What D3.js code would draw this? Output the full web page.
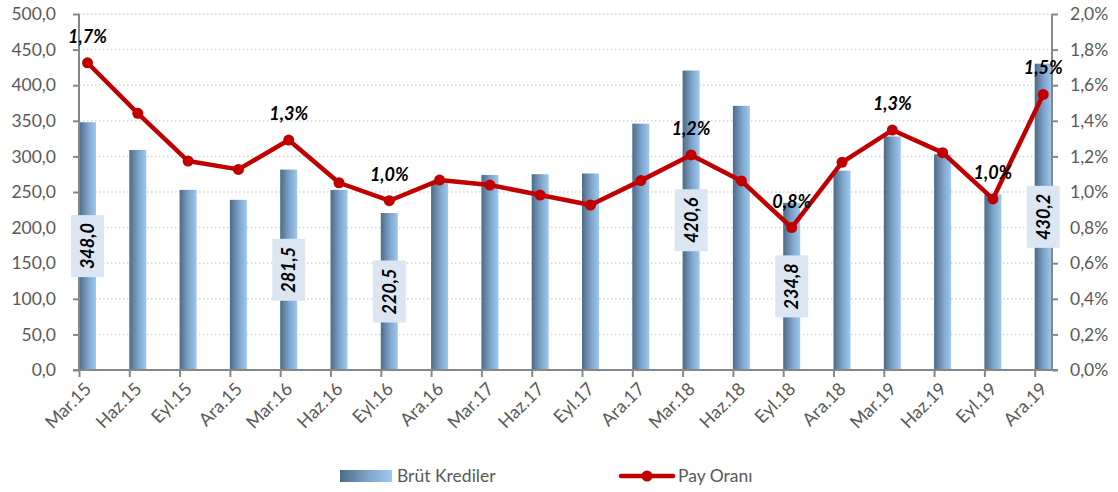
<!DOCTYPE html>
<html>
<head>
<meta charset="utf-8">
<script src="https://cdn.jsdelivr.net/npm/d3@7"></script>
<style>
  body { margin: 0; background: #fff; }
  svg { display: block; font-family: Lato, "Open Sans", sans-serif; }
</style>
</head>
<body>
<svg id="chart" width="1118" height="492"></svg>
<script>
// data
let periods = ["Mar.15","Haz.15","Eyl.15","Ara.15","Mar.16","Haz.16","Eyl.16","Ara.16",
               "Mar.17","Haz.17","Eyl.17","Ara.17","Mar.18","Haz.18","Eyl.18","Ara.18",
               "Mar.19","Haz.19","Eyl.19","Ara.19"];
let brutKrediler = [348.0, 309, 253, 239, 281.5, 253, 220.5, 263, 274, 275, 276, 346,
                    420.6, 371, 234.8, 280, 328, 303, 247, 430.2];
let payOrani = [0.01726, 0.01442, 0.01174, 0.01127, 0.01292, 0.01052, 0.00951, 0.01067,
                0.01039, 0.00983, 0.00927, 0.01064, 0.01208, 0.01062, 0.00800, 0.01167,
                0.01348, 0.01221, 0.00961, 0.01548];
// which points carry a data label
let barLabelAt = ["Mar.15","Mar.16","Eyl.16","Mar.18","Eyl.18","Ara.19"];
let lineLabelAt = ["Mar.15","Mar.16","Eyl.16","Mar.18","Eyl.18","Mar.19","Eyl.19","Ara.19"];
let leftTicks = d3.range(0, 501, 50);
let rightTicks = d3.range(0, 0.0201, 0.002);

let width = 1118, height = 492;
let plotLeft = 79, plotRight = 1052, plotTop = 14, plotBottom = 370;
let barW = 17;

let locale = d3.formatLocale({decimal: ",", thousands: ".", grouping: [3], currency: ["", ""]});
let fmtNum = locale.format(".1f");
let fmtPct = locale.format(".1%");

let svg = d3.select("#chart");

let defs = svg.append("defs");
let grad = defs.append("linearGradient").attr("id", "barGrad")
	.attr("x1", "0%").attr("x2", "100%").attr("y1", "0%").attr("y2", "0%");
grad.append("stop").attr("offset", "0%").attr("stop-color", "#4d6a88");
grad.append("stop").attr("offset", "55%").attr("stop-color", "#7fa6cc");
grad.append("stop").attr("offset", "100%").attr("stop-color", "#9fc8ee");

// scales
let x = d3.scalePoint()
	.domain(periods)
	.range([plotLeft, plotLeft + 19 * 50.3]);

let yL = d3.scaleLinear().domain([0, 500]).range([plotBottom, plotTop]);
let yR = d3.scaleLinear().domain([0, 0.02]).range([plotBottom, plotTop]);

// gridlines
svg.append("g")
	.selectAll("line")
	.data(leftTicks.filter(d => d > 0))
	.enter().append("line")
	.attr("x1", plotLeft).attr("x2", plotRight)
	.attr("y1", d => yL(d)).attr("y2", d => yL(d))
	.attr("stroke", "#d4d4d4")
	.attr("stroke-width", 1.5)
	.attr("stroke-dasharray", "1.5 2.5");

// bars
svg.append("g")
	.selectAll("rect")
	.data(brutKrediler)
	.enter().append("rect")
	.attr("x", (d, i) => x(periods[i]))
	.attr("y", d => yL(d))
	.attr("width", barW)
	.attr("height", d => yL(0) - yL(d))
	.attr("fill", "url(#barGrad)");

// axes
let axisColor = "#878787";
let labelColor = "#595959";

let leftAxis = svg.append("g")
	.attr("transform", "translate(" + plotLeft + ",0)")
	.call(d3.axisLeft(yL).tickValues(leftTicks).tickFormat(fmtNum).tickSize(6).tickPadding(17));
let rightAxis = svg.append("g")
	.attr("transform", "translate(" + plotRight + ",0)")
	.call(d3.axisRight(yR).tickValues(rightTicks).tickFormat(fmtPct).tickSize(6).tickPadding(12));
let bottomAxis = svg.append("g")
	.attr("transform", "translate(0," + plotBottom + ")")
	.call(d3.axisBottom(x).tickSize(7).tickFormat(""));

[leftAxis, rightAxis, bottomAxis].forEach(function(g) {
	g.select(".domain").remove();
	g.selectAll(".tick line").attr("stroke", axisColor).attr("stroke-width", 2);
	g.selectAll(".tick text")
		.attr("fill", labelColor)
		.style("font-size", "17.5px")
		.style("font-family", "Lato, sans-serif");
});

svg.append("line")
	.attr("x1", plotLeft).attr("x2", plotLeft)
	.attr("y1", plotTop).attr("y2", plotBottom)
	.attr("stroke", axisColor).attr("stroke-width", 2);
svg.append("line")
	.attr("x1", plotRight).attr("x2", plotRight)
	.attr("y1", plotTop).attr("y2", plotBottom)
	.attr("stroke", axisColor).attr("stroke-width", 2);
svg.append("line")
	.attr("x1", plotLeft - 6).attr("x2", plotRight + 6)
	.attr("y1", plotBottom).attr("y2", plotBottom)
	.attr("stroke", axisColor).attr("stroke-width", 2);

// rotated category labels
svg.append("g")
	.selectAll("text")
	.data(periods)
	.enter().append("text")
	.attr("transform", d => "translate(" + (x(d) + barW / 2 + 5) + "," + (plotBottom + 20) + ") rotate(-45)")
	.attr("text-anchor", "end")
	.attr("fill", labelColor)
	.style("font-size", "18px")
	.text(d => d);

// line series
let valueline = d3.line()
	.x((d, i) => x(periods[i]) + barW / 2)
	.y(d => yR(d));

svg.append("path")
	.attr("d", valueline(payOrani))
	.attr("fill", "none")
	.attr("stroke", "#c00000")
	.attr("stroke-width", 4.5)
	.attr("stroke-linejoin", "round");

svg.append("g")
	.selectAll("circle")
	.data(payOrani)
	.enter().append("circle")
	.attr("cx", (d, i) => x(periods[i]) + barW / 2)
	.attr("cy", d => yR(d))
	.attr("r", 5.5)
	.attr("fill", "#c00000");

// bar value labels (boxed, vertical)
let barLabels = svg.append("g")
	.selectAll("g")
	.data(periods.map((p, i) => ({p: p, v: brutKrediler[i]})).filter(d => barLabelAt.includes(d.p)))
	.enter().append("g")
	.attr("transform", d => "translate(" + (x(d.p) + barW / 2) + "," + ((yL(d.v) + yL(0)) / 2) + ")");

barLabels.append("rect")
	.attr("x", -16.5).attr("y", -31)
	.attr("width", 33).attr("height", 62)
	.attr("fill", "#dce6f2");

barLabels.append("text")
	.attr("transform", "rotate(-90)")
	.attr("text-anchor", "middle")
	.attr("dy", "0.36em")
	.style("font-size", "18px")
	.style("font-weight", "bold")
	.style("font-style", "italic")
	.attr("fill", "#000")
	.text(d => fmtNum(d.v));

// line value labels
svg.append("g")
	.selectAll("text")
	.data(periods.map((p, i) => ({p: p, v: payOrani[i]})).filter(d => lineLabelAt.includes(d.p)))
	.enter().append("text")
	.attr("x", d => x(d.p) + barW / 2)
	.attr("y", d => yR(d.v) - 20)
	.attr("text-anchor", "middle")
	.style("font-size", "18px")
	.style("font-weight", "bold")
	.style("font-style", "italic")
	.attr("fill", "#000")
	.text(d => fmtPct(d.v));

// legend
let legend = svg.append("g");
legend.append("rect")
	.attr("x", 340).attr("y", 470)
	.attr("width", 52).attr("height", 12)
	.attr("fill", "url(#barGrad)");
legend.append("text")
	.attr("x", 397).attr("y", 482)
	.attr("fill", labelColor)
	.style("font-size", "17.5px")
	.text("Brüt Krediler");
legend.append("line")
	.attr("x1", 621).attr("x2", 673)
	.attr("y1", 476).attr("y2", 476)
	.attr("stroke", "#c00000")
	.attr("stroke-width", 4.5)
	.attr("stroke-linecap", "round");
legend.append("circle")
	.attr("cx", 647).attr("cy", 476).attr("r", 5.5)
	.attr("fill", "#c00000");
legend.append("text")
	.attr("x", 678).attr("y", 482)
	.attr("fill", labelColor)
	.style("font-size", "17.5px")
	.text("Pay Oranı");
</script>
</body>
</html>
